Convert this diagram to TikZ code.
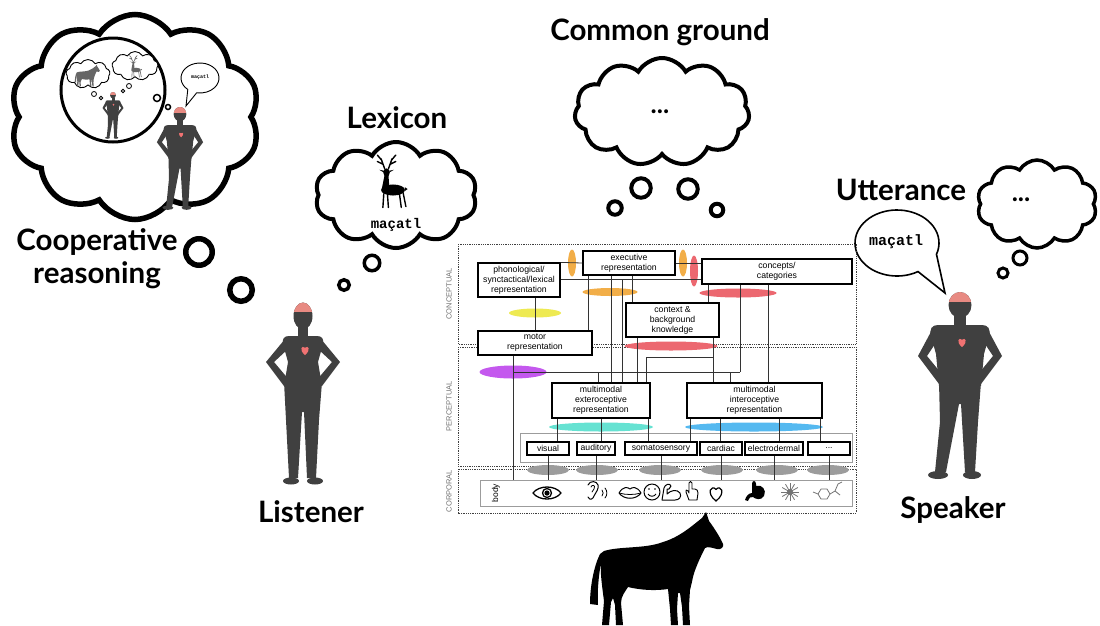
\documentclass[tikz,border=0pt]{standalone}
\usepackage{fontspec}
\setmainfont{Liberation Sans}
\newfontfamily\titlefont{Lato}
\newfontfamily\codefont{Liberation Mono}
\usetikzlibrary{shapes.symbols,shapes.geometric}

\definecolor{figgray}{HTML}{404040}
\definecolor{brainpink}{HTML}{E88A82}
\definecolor{heartpink}{HTML}{F07272}
\definecolor{lemon}{HTML}{EEEA52}
\definecolor{amber}{HTML}{F2AE48}
\definecolor{coral}{HTML}{EC6870}
\definecolor{violet}{HTML}{C458EE}
\definecolor{aqua}{HTML}{66E2D2}
\definecolor{sky}{HTML}{55B9F0}
\definecolor{stone}{HTML}{9C9C9C}

\tikzset{
  headline/.style={font=\titlefont\bfseries\fontsize{29.5}{33}\selectfont, align=center, inner sep=0pt},
  thought/.style={cloud, draw=black, fill=white, line width=4pt, cloud puffs=11, cloud puff arc=120, inner sep=0pt},
  puff/.style={circle, draw=black, fill=white, inner sep=0pt},
  code/.style={font=\codefont\bfseries\fontsize{14}{16}\selectfont, inner sep=0pt},
  ellipsis/.style={font=\titlefont\bfseries\fontsize{26}{28}\selectfont, inner sep=0pt},
  zone/.style={draw=black!75, line width=1pt, dash pattern=on 0.9pt off 0.9pt},
  zonelabel/.style={rotate=90, font=\fontsize{7.5}{8}\selectfont, text=black!55, inner sep=0pt},
  repbox/.style={draw=black, line width=1.2pt, fill=white, align=center, font=\fontsize{8.7}{10}\selectfont, inner sep=0pt},
  modbox/.style={draw=black, line width=1.2pt, fill=white, font=\fontsize{8.6}{9}\selectfont, inner sep=0pt, minimum height=13pt},
  wire/.style={draw=black!80, line width=0.8pt},
  blob/.style={ellipse, draw=none, inner sep=0pt},
  sense/.style={draw=black, line width=1.3pt, line cap=round, line join=round},
  deerfill/.style={fill=black},
  deerline/.style={draw=black, line width=1.4pt, line cap=round},
  heart/.pic={
    \path[pic actions] (0,1) .. controls (-1.3,0) and (-0.6,-1.1) .. (0,-0.45)
      .. controls (0.6,-1.1) and (1.3,0) .. (0,1) -- cycle;
  },
  man/.pic={
    \fill[figgray] (0,13) ellipse [x radius=11.5, y radius=13];
    \begin{scope}
      \clip (0,13) ellipse [x radius=11.5, y radius=13];
      \fill[brainpink] (-12,-1) rectangle (12,10);
    \end{scope}
    \fill[figgray] (-6,22) rectangle (6,36);
    \fill[figgray] (-6,33) -- (-22,33) .. controls (-28,33) and (-31,37) .. (-29,44) -- (-24,62) -- (-21,94)
      -- (21,94) -- (24,62) -- (29,44) .. controls (31,37) and (28,33) .. (22,33) -- cycle;
    \fill[figgray] (-27,36) -- (-42,64) -- (-21,92) -- (-15,86) -- (-33,64) -- (-21,46) -- cycle;
    \fill[figgray] (27,36) -- (42,64) -- (21,92) -- (15,86) -- (33,64) -- (21,46) -- cycle;
    \fill[figgray] (-21,90) -- (21,90) -- (18,130) -- (15,180) -- (5,180) -- (1,112) -- (-1,112)
      -- (-14,180) -- (-25,180) -- (-20,130) -- cycle;
    \fill[figgray] (-22,183) ellipse [x radius=10, y radius=4];
    \fill[figgray] (12,183) ellipse [x radius=9, y radius=4];
    \fill[heartpink] (2,55) .. controls (-4.5,50) and (-1,44.5) .. (2,47.8)
      .. controls (5,44.5) and (8.5,50) .. (2,55) -- cycle;
  },
  woman/.pic={
    \fill[figgray] (0,14) ellipse [x radius=9.5, y radius=13.5];
    \begin{scope}
      \clip (0,14) ellipse [x radius=9.5, y radius=13.5];
      \fill[brainpink] (-12,-1) rectangle (12,10);
    \end{scope}
    \fill[figgray] (-5,24) rectangle (5,38);
    \fill[figgray] (-5,34) -- (-14,34) .. controls (-19,34) and (-21,37) .. (-20,42) -- (-15,60) -- (-19,84)
      -- (19,84) -- (15,60) -- (20,42) .. controls (21,37) and (19,34) .. (14,34) -- cycle;
    \fill[figgray] (-18,37) -- (-37,60) -- (-19,84) -- (-13,79) -- (-29,60) -- (-15,47) -- cycle;
    \fill[figgray] (18,37) -- (37,60) -- (19,84) -- (13,79) -- (29,60) -- (15,47) -- cycle;
    \fill[figgray] (-19,80) -- (19,80) -- (16,118) -- (13,176) -- (4,176) -- (1,110) -- (-1,110)
      -- (-5,176) -- (-14,176) -- (-17,118) -- cycle;
    \fill[figgray] (-12,179) ellipse [x radius=8, y radius=3.5];
    \fill[figgray] (12,179) ellipse [x radius=8, y radius=3.5];
    \fill[heartpink] (2,53) .. controls (-4.5,48) and (-1,42.5) .. (2,45.8)
      .. controls (5,42.5) and (8.5,48) .. (2,53) -- cycle;
  },
  horse/.pic={
    \path[pic actions] (-51,-20) .. controls (-35,-25) and (-10,-22) .. (8,-29)
      .. controls (25,-34) and (38,-46) .. (47,-53)
      -- (51,-59) -- (54,-50)
      .. controls (60,-42) and (66,-32) .. (68,-27)
      .. controls (69,-24) and (66,-21) .. (62,-22)
      .. controls (57,-23) and (53,-25) .. (50,-23)
      .. controls (44,-11) and (40,-2) .. (38,6)
      .. controls (37,11) and (36,15) .. (35,19)
      -- (34,35) -- (35,54) -- (28,54) -- (27,36) -- (25,22)
      -- (23,22) -- (22,38) -- (23,54) -- (16,54) -- (15,38) -- (13,18)
      .. controls (0,20) and (-15,19) .. (-27,16)
      .. controls (-30,21) and (-34,25) .. (-34,32)
      -- (-32,54) -- (-39,54) -- (-40,34) -- (-42,27)
      -- (-44,31) -- (-46,54) -- (-53,54) -- (-51,30)
      .. controls (-53,15) and (-55,0) .. (-54,-8)
      .. controls (-56,2) and (-58,20) .. (-57,34)
      -- (-65,33) .. controls (-65,15) and (-61,-5) .. (-55,-17)
      -- cycle;
  },
  deer/.pic={
    \fill[deerfill] (0,0) ellipse [x radius=13, y radius=6];
    \fill[deerfill] (-12,-2) -- (-9,-17) -- (-5,-17) -- (-4,-3) -- cycle;
    \fill[deerfill] (-7,-19) ellipse [x radius=3.5, y radius=4.5];
    \fill[deerfill] (-10,-21) -- (-15,-22) -- (-10,-19) -- cycle;
    \fill[deerfill] (-4,-21) -- (1,-22) -- (-4,-19) -- cycle;
    \fill[deerfill] (13,-3) -- (16,-1) -- (13,1) -- cycle;
    \draw[deerline] (-9,-23) -- (-13,-34) (-11,-28) -- (-17,-31) (-12,-32) -- (-17,-38)
      (-5,-23) -- (-1,-34) (-3,-28) -- (3,-31) (-2,-32) -- (3,-38);
    \draw[deerline] (-10,4) -- (-11,19) (-6,5) -- (-5,19) (7,4) -- (9,19) (11,3) -- (14,18);
  },
}

\begin{document}
\begin{tikzpicture}[x=1pt, y=-1pt]
\useasboundingbox (0,0) rectangle (1100,625);
\fill[white] (0,0) rectangle (1100,625);

% ---------- cooperative reasoning cloud ----------
\node[thought, line width=5.5pt, cloud puffs=10, cloud puff arc=115, aspect=1.2, minimum width=250pt, minimum height=205pt] (coop) at (135,117) {};
\node[circle, draw=black, line width=3pt, minimum size=104pt, inner sep=0pt] (mind) at (113,90) {};
\node[thought, line width=0.9pt, cloud puffs=9, aspect=1.5, minimum width=44pt, minimum height=29pt] (minihorse) at (88,74) {};
\node[thought, line width=0.9pt, cloud puffs=9, aspect=1.5, minimum width=46pt, minimum height=29pt] (minideer) at (135,66) {};
\pic[fill=black!60, scale=0.19] at (87,76) {horse};
\pic[scale=0.38, deerfill/.style={fill=black!60}, deerline/.style={draw=black!60, line width=0.6pt, line cap=round}] at (136,70) {deer};
\node[puff, line width=0.8pt, minimum size=5pt] (mb1) at (94,94) {};
\node[puff, line width=0.8pt, minimum size=3.5pt] (mb2) at (101,98) {};
\node[puff, line width=0.8pt, minimum size=3.5pt] (mb3) at (123,91) {};
\node[puff, line width=0.8pt, minimum size=5pt] (mb4) at (129,86) {};
\pic[scale=0.25] at (113,92) {man};
\node[puff, line width=1.5pt, minimum size=7pt] (mb5) at (157,98) {};
\node[puff, line width=1.5pt, minimum size=5pt] (mb6) at (168,107) {};
\draw[line width=0.9pt, fill=white] (200,78) ++(130:19 and 15)
  arc[start angle=130, end angle=460, x radius=19, y radius=15] -- (186,106) -- cycle;
\node[code, font=\codefont\bfseries\fontsize{5}{6}\selectfont] (miniword) at (200,77) {maçatl};
\pic[scale=0.55] at (180,107) {man};
\node[puff, line width=5.5pt, minimum size=26.5pt] (cb1) at (199,252) {};
\node[puff, line width=5.5pt, minimum size=22.5pt] (cb2) at (241,290) {};
\node[headline] (tcoop) at (97,259) {Cooperative\\reasoning};

% ---------- lexicon ----------
\node[headline] (tlex) at (397,118) {Lexicon};
\node[thought, line width=4pt, cloud puffs=10, aspect=1.5, minimum width=162pt, minimum height=106pt] (lex) at (396,195) {};
\pic[scale=0.92] at (393,190) {deer};
\node[code] (lexword) at (396,225) {maçatl};
\node[puff, line width=3.5pt, minimum size=15.5pt] (lb1) at (372,263) {};
\node[puff, line width=3.5pt, minimum size=10.5pt] (lb2) at (344,285) {};

% ---------- common ground ----------
\node[headline] (tcg) at (660,32) {Common ground};
\node[thought, line width=4pt, cloud puffs=11, aspect=1.55, minimum width=175pt, minimum height=108pt] (cg) at (662,112) {};
\node[ellipsis] (cgdots) at (660,112) {...};
\node[puff, line width=4pt, minimum size=13.5pt] (gb1) at (615,208) {};
\node[puff, line width=4pt, minimum size=19.5pt] (gb2) at (641,188) {};
\node[puff, line width=4pt, minimum size=19.5pt] (gb3) at (688,189) {};
\node[puff, line width=4pt, minimum size=12.5pt] (gb4) at (717,210) {};

% ---------- speaker side ----------
\node[headline] (tutt) at (901,190) {Utterance};
\draw[line width=1.6pt, fill=white] (897,243) ++(60:42 and 33)
  arc[start angle=60, end angle=380, x radius=42, y radius=33] -- (945,293) -- cycle;
\node[code, font=\codefont\bfseries\fontsize{15}{17}\selectfont] (uttword) at (896,242) {maçatl};
\node[thought, line width=3.5pt, cloud puffs=10, aspect=1.35, minimum width=120pt, minimum height=88pt] (spk) at (1037,204) {};
\node[ellipsis] (spkdots) at (1021,200) {...};
\node[puff, line width=3pt, minimum size=14pt] (sb1) at (1020,258) {};
\node[puff, line width=3pt, minimum size=10pt] (sb2) at (1003,273) {};

% ---------- people and horse ----------
\pic at (303,302) {woman};
\node[headline] (tlis) at (311,512) {Listener};
\pic at (960,292) {man};
\node[headline] (tspk) at (953,510) {Speaker};
\pic[fill=black] at (655,571) {horse};

% ---------- architecture diagram ----------
\draw[zone] (458,244) rectangle (856,344);
\draw[zone] (458,347) rectangle (856,466);
\draw[zone] (458,469) rectangle (856,513);
\node[zonelabel] (lcon) at (449,294) {CONCEPTUAL};
\node[zonelabel] (lper) at (449,406) {PERCEPTUAL};
\node[zonelabel] (lcor) at (449,491) {CORPORAL};

% coloured hubs
\node[blob, fill=amber, minimum width=8pt, minimum height=27pt] (o1) at (572,263) {};
\node[blob, fill=amber, minimum width=8pt, minimum height=27pt] (o2) at (683,263) {};
\node[blob, fill=coral, minimum width=8pt, minimum height=31pt] (r1) at (694,271) {};
\node[blob, fill=amber, minimum width=55pt, minimum height=8pt] (o3) at (610,292) {};
\node[blob, fill=coral, minimum width=77pt, minimum height=9pt] (r2) at (738,293) {};
\node[blob, fill=lemon, minimum width=52pt, minimum height=9pt] (y1) at (535,313) {};
\node[blob, fill=coral, minimum width=93pt, minimum height=9pt] (r3) at (671,346) {};
\node[blob, fill=violet, minimum width=67pt, minimum height=13pt] (v1) at (513,372) {};
\node[blob, fill=aqua, minimum width=104pt, minimum height=9pt] (a1) at (601,427) {};
\node[blob, fill=sky, minimum width=138pt, minimum height=9pt] (s1) at (754,427) {};
\foreach \gx/\gn in {548/g1,597/g2,660/g3,722/g4,777/g5,828/g6}
  \node[blob, fill=stone, minimum width=42pt, minimum height=10pt] (\gn) at (\gx,470) {};

% grouping frames
\node[draw=stone, line width=0.9pt, minimum width=332pt, minimum height=29pt, inner sep=0pt] (senses) at (686,447.5) {};
\node[draw=stone, line width=0.9pt, minimum width=372pt, minimum height=26pt, inner sep=0pt] (bodyrow) at (666,493) {};
\node[rotate=90, font=\fontsize{8.5}{9}\selectfont, inner sep=0pt] (bodylbl) at (496,493) {body};

% representation boxes
\node[repbox, minimum width=82pt, minimum height=34pt] (phon) at (519,280) {phonological/\\synctactical/lexical\\representation};
\node[repbox, minimum width=92pt, minimum height=24pt] (exec) at (629,263) {executive\\representation};
\node[repbox, minimum width=150pt, minimum height=25pt] (concepts) at (777,271.5) {concepts/\\categories};
\node[repbox, minimum width=93pt, minimum height=34pt] (context) at (672.5,320) {context \&\\background\\knowledge};
\node[repbox, minimum width=114pt, minimum height=24pt] (motor) at (535,343) {motor\\representation};
\node[repbox, minimum width=98pt, minimum height=35pt] (extero) at (601,400.5) {multimodal\\exteroceptive\\representation};
\node[repbox, minimum width=135pt, minimum height=35pt] (intero) at (754.5,400.5) {multimodal\\interoceptive\\representation};
\node[modbox, minimum width=42pt] (visual) at (548,448.5) {visual};
\node[modbox, minimum width=38pt] (auditory) at (596,448.5) {auditory};
\node[modbox, minimum width=72pt] (somato) at (661,448.5) {somatosensory};
\node[modbox, minimum width=42pt] (cardiac) at (721,448.5) {cardiac};
\node[modbox, minimum width=58pt] (electro) at (774,448.5) {electrodermal};
\node[modbox, minimum width=42pt] (more) at (829,448.5) {...};

% wiring columns and rows
\foreach \c in {513,557,588,598,601,611,622,632,637,646,648,690,708,713,720,730,740,768,779,820}
  \coordinate (k\c) at (\c,0);
\coordinate (h279) at (0,279);
\coordinate (h357) at (0,357);
\coordinate (h372) at (0,372);

\draw[wire] (motor.north) -- (motor.north |- phon.south);
\draw[wire] (k513 |- motor.south) -- (k513 |- bodyrow.north);
\draw[wire] (phon.north east) -- (exec.west);
\draw[wire] (exec.east) -- (exec.east -| concepts.west);
\draw[wire] (phon.east |- h279) -- (concepts.west |- h279);
\draw[wire] (k588 |- exec.south) -- (k588 |- motor.north);
\draw[wire] (k611 |- exec.south) -- (k611 |- extero.north);
\draw[wire] (k632 |- exec.south) -- (k632 |- context.north);
\draw[wire] (k622 |- h279) -- (k622 |- extero.north);
\draw[wire] (k637 |- context.south) -- (k637 |- extero.north);
\draw[wire] (k713 |- context.south) -- (k713 |- intero.north);
\draw[wire] (k646 |- extero.north) -- (k646 |- h357) -- (k713 |- h357);
\draw[wire] (k708 |- concepts.south) -- (k708 |- context.north);
\draw[wire] (k740 |- concepts.south) -- (k740 |- h372);
\draw[wire] (k768 |- concepts.south) -- (k768 |- intero.north);
\draw[wire] (k513 |- h372) -- (k740 |- h372);
\draw[wire] (k598 |- h372) -- (k598 |- extero.north);
\draw[wire] (k730 |- h372) -- (k730 |- intero.north);
\draw[wire] (k557 |- extero.south) -- (k557 |- visual.north);
\draw[wire] (k601 |- extero.south) -- (k601 |- auditory.north);
\draw[wire] (k648 |- extero.south) -- (k648 |- somato.north);
\draw[wire] (k690 |- intero.south) -- (k690 |- somato.north);
\draw[wire] (k720 |- intero.south) -- (k720 |- cardiac.north);
\draw[wire] (k779 |- intero.south) -- (k779 |- electro.north);
\draw[wire] (k820 |- intero.south) -- (k820 |- more.north);
\foreach \m in {visual,auditory,somato,cardiac,electro,more}
  \draw[wire] (\m.south) -- (\m.south |- bodyrow.north);

% body sensing icons
\draw[sense] (533,493) .. controls (539,485) and (555,485) .. (561,493)
  .. controls (555,501) and (539,501) .. (533,493) -- cycle;
\draw[sense] (547,493) circle [radius=4.5];
\fill (547,493) circle [radius=2.6];
\draw[sense, line width=1pt] (588,497) .. controls (590,501) and (593,499) .. (594,496)
  .. controls (596,492) and (599,489) .. (598,485) .. controls (597,481) and (590,480) .. (588,485);
\draw[sense, line width=0.8pt] (591,487) .. controls (592,484) and (596,485) .. (594,489) -- (592,492);
\draw[sense, line width=0.8pt] (602,490) .. controls (603.5,492) and (603.5,494) .. (602,496);
\draw[sense, line width=0.8pt] (605,488) .. controls (607.5,491) and (607.5,495) .. (605,498);
\draw[sense, line width=1pt] (619,493) .. controls (623,486) and (628,487) .. (630,489)
  .. controls (632,487) and (637,486) .. (641,493) .. controls (636,500) and (624,500) .. (619,493) -- cycle;
\draw[line width=0.8pt] (619,493) .. controls (626,495) and (634,495) .. (641,493);
\draw[sense, line width=1pt] (652,492) circle [radius=8];
\fill (649,489) circle [radius=0.9];
\fill (655,489) circle [radius=0.9];
\draw[line width=0.9pt] (648,494) .. controls (650,497) and (654,497) .. (656,494);
\draw[sense, line width=1pt] (662,500) -- (664,488) .. controls (665,484) and (670,483) .. (671,486)
  -- (669,489) -- (667,489) -- (667,494) .. controls (671,490) and (677,489) .. (680,493)
  .. controls (682,497) and (679,500) .. (675,500) -- cycle;
\draw[sense, line width=0.9pt] (689,500) -- (686,492) .. controls (685,490) and (687,489) .. (688,491)
  -- (689,493) -- (689,483) .. controls (689,481) and (692,481) .. (692,483) -- (692,489)
  -- (695,489) .. controls (697,489) and (698,491) .. (698,493) -- (697,500) -- cycle;
\pic[draw=black, line width=1.2pt, scale=8] at (716,493) {heart};
\fill (752,484) .. controls (752,480) and (756,480) .. (756,484) -- (756,486)
  .. controls (762,484) and (767,490) .. (764,496) .. controls (761,501) and (755,499) .. (753,497)
  .. controls (751,496) and (749,498) .. (748,501) -- (745,500)
  .. controls (746,496) and (749,493) .. (752,493) -- cycle;
\foreach \a in {0,30,...,330}
  \draw[black!55, line width=0.8pt] (790,492) -- ++(\a:9);
\fill[black!55] (790,492) circle [radius=3];
\draw[black!55, line width=0.8pt, line join=round] (818,494) -- (821,489) -- (827,489) -- (830,494)
  -- (827,499) -- (821,499) -- cycle (830,494) -- (835,491) -- (838,484) -- (842,482)
  (818,494) -- (813,492) (835,491) -- (840,495);
\end{tikzpicture}
\end{document}
